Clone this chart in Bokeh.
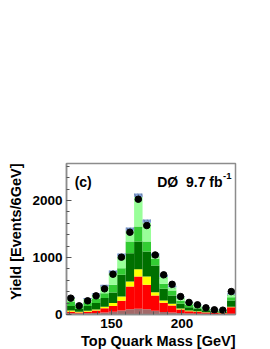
import numpy as np
from bokeh.plotting import figure
from bokeh.models import Label, SingleIntervalTicker, ColumnDataSource, Title
from bokeh.embed import file_html
from bokeh.resources import INLINE

# bin lower edges (6 GeV bins) [GeV]
bin_lo = [118, 124, 130, 136, 142, 148, 154, 160, 166, 172,
          178, 184, 190, 196, 202, 208, 214, 220, 226, 232]
bin_width = 6

# stacked components (events / 6 GeV), bottom to top
comp_brown = [20, 18, 20, 25, 35, 50, 70, 90, 100, 90, 65, 45, 35, 25, 18, 15, 12, 10, 9, 15]
comp_red = [30, 17, 30, 45, 75, 100, 170, 401, 567, 430, 268, 160, 123, 63, 40, 32, 23, 19, 14, 114]
comp_yellow = [20, 12, 15, 18, 25, 50, 76, 88, 128, 147, 59, 41, 29, 17, 12, 11, 6, 6, 6, 6]
comp_dkgreen = [80, 53, 85, 112, 155, 185, 380, 497, 486, 438, 468, 204, 146, 82, 59, 47, 35, 23, 18, 111]
comp_mdgreen = [80, 40, 65, 70, 85, 135, 117, 205, 263, 176, 117, 88, 88, 53, 36, 24, 18, 12, 11, 58]
comp_ltgreen = [60, 35, 55, 80, 115, 210, 207, 189, 516, 329, 53, 122, 59, 60, 45, 35, 23, 18, 18, 47]
# systematic uncertainty on total
total_err = [22, 14, 20, 25, 32, 42, 50, 58, 65, 58, 45, 32, 26, 18, 14, 12, 9, 8, 7, 20]
# data
data_counts = [287, 152, 240, 327, 450, 707, 1006, 1444, 2023, 1561, 1045, 696, 530, 315, 212, 170, 117, 82, 76, 403]

layers = [comp_brown, comp_red, comp_yellow, comp_dkgreen, comp_mdgreen, comp_ltgreen]
colors = ["#a36a6a", "#ff0000", "#ffff00", "#007000", "#33cc33", "#99ff99"]

x_lo = np.array(bin_lo, dtype=float)
x_hi = x_lo + bin_width
x_c = x_lo + bin_width / 2

FONT = "Liberation Sans"

p = figure(width=270, height=349, x_range=(118, 238), y_range=(0, 2650),
           output_backend="svg", toolbar_location=None,
           min_border_left=65, min_border_right=35, min_border_top=163, min_border_bottom=35)
p.background_fill_color = "white"
p.border_fill_color = "white"
p.outline_line_color = "#8c8c8c"
p.outline_line_width = 1.5
p.xgrid.visible = False
p.ygrid.visible = False

bottom = np.zeros(len(bin_lo))
for vals, col in zip(layers, colors):
    top = bottom + np.array(vals, dtype=float)
    src = ColumnDataSource(dict(left=x_lo, right=x_hi, bottom=bottom, top=top))
    p.quad(left="left", right="right", bottom="bottom", top="top", source=src,
           fill_color=col, line_color=None)
    bottom = top

total = bottom
err = np.array(total_err, dtype=float)
# uncertainty band: upper half (blue) and lower half (hatch only)
p.quad(left=x_lo, right=x_hi, bottom=total, top=total + err,
       fill_color="#7f9fd8", line_color=None,
       hatch_pattern="\\", hatch_color="#404040", hatch_alpha=0.7,
       hatch_scale=7, hatch_weight=0.6)
p.quad(left=x_lo, right=x_hi, bottom=total - err, top=total,
       fill_alpha=0, line_color=None,
       hatch_pattern="\\", hatch_color="#404040", hatch_alpha=0.7,
       hatch_scale=7, hatch_weight=0.6)

p.scatter(x_c, data_counts, size=6.5, marker="circle", fill_color="black", line_color="black")

# axes
p.xaxis.ticker = SingleIntervalTicker(interval=50, num_minor_ticks=5)
p.yaxis.ticker = SingleIntervalTicker(interval=1000, num_minor_ticks=5)
for ax in (p.xaxis[0], p.yaxis[0]):
    ax.axis_line_color = "#8c8c8c"
    ax.axis_line_width = 1.5
    ax.major_tick_line_color = "#555555"
    ax.minor_tick_line_color = "#555555"
    ax.major_tick_in = 5
    ax.major_tick_out = 0
    ax.minor_tick_in = 3
    ax.minor_tick_out = 0
    ax.major_label_text_font = FONT
    ax.major_label_text_font_style = "bold"
    ax.major_label_text_font_size = "13.5px"
    ax.major_label_text_color = "black"
    ax.major_label_standoff = 4
    ax.axis_label = None

# axis titles (right/top aligned like ROOT)
p.add_layout(Title(text="Top Quark Mass [GeV]", align="right", text_font=FONT,
                   text_font_style="bold", text_font_size="14.5px", text_color="black",
                   standoff=0, offset=0), "below")
p.add_layout(Title(text="Yield [Events/6GeV]", align="right", text_font=FONT,
                   text_font_style="bold", text_font_size="14.5px", text_color="black",
                   standoff=11, offset=0), "left")

# panel annotations
p.add_layout(Label(x=123.8, y=2317, text="(c)", text_align="left",
                   text_baseline="alphabetic", text_font=FONT, text_font_style="bold",
                   text_font_size="14px", text_color="black"))
p.add_layout(Label(x=228.8, y=2317, text="DØ\u00a0\u00a09.7 fb", text_align="right",
                   text_baseline="alphabetic", text_font=FONT, text_font_style="bold",
                   text_font_size="14px", text_color="black"))
p.add_layout(Label(x=235.2, y=2425, text="-1", text_align="right",
                   text_baseline="alphabetic", text_font=FONT, text_font_style="bold",
                   text_font_size="9.5px", text_color="black"))

open("out.html", "w").write(file_html(p, INLINE))
